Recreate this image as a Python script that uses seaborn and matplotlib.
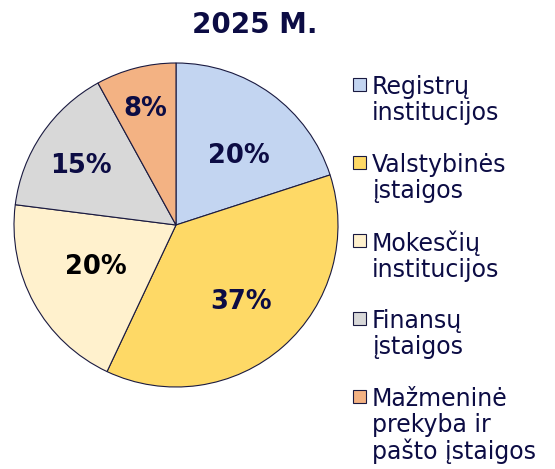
import numpy as np
import matplotlib
matplotlib.use("Agg")
import matplotlib.pyplot as plt
from matplotlib.patches import Rectangle
import seaborn as sns

# Duomenys
kategorijos = ["Registrų\ninstitucijos", "Valstybinės\nįstaigos", "Mokesčių\ninstitucijos",
               "Finansų\nįstaigos", "Mažmeninė\nprekyba ir\npašto įstaigos"]
reiksmes = [20, 37, 20, 15, 8]
spalvos = ["#c3d5f1", "#fed966", "#fff1cd", "#d8d8d8", "#f3b283"]
etiketes_spalvos = ["#0c0c44", "#0c0c44", "#000000", "#0c0c44", "#0c0c44"]
atstumai = [0.59, 0.61, 0.55, 0.70, 0.76]
kampo_poslinkis = [-5, 0, -3, 1, 0]

sns.set_theme(style="white")
plt.rcParams["font.family"] = ["DejaVu Sans"]
W, H = 555, 469

fig = plt.figure(figsize=(W / 100, H / 100), dpi=100)
# pyragas: centras (176, 225), spindulys 162 px
ax = fig.add_axes([14 / W, 1 - 387 / H, 324 / W, 324 / H])

wedges, _ = ax.pie(reiksmes, colors=sns.color_palette(spalvos), startangle=90, counterclock=False,
                   wedgeprops=dict(edgecolor="#1a1a40", linewidth=0.8))
ax.set_xlim(-1, 1)
ax.set_ylim(-1, 1)
ax.set_aspect("equal")
ax.axis("off")

# Procentų etiketės
for w, v, c, d, p in zip(wedges, reiksmes, etiketes_spalvos, atstumai, kampo_poslinkis):
    kampas = np.deg2rad((w.theta1 + w.theta2) / 2 + p)
    ax.text(d * np.cos(kampas), d * np.sin(kampas), f"{v}%", ha="center", va="center_baseline",
            fontsize=18.5, fontweight="bold", color=c)

fig.text(255 / W, 1 - 25 / H, "2025 M.", ha="center", va="center", fontsize=20,
         fontweight="bold", color="#0c0c44")

# Legenda
for i, (k, sp) in enumerate(zip(kategorijos, spalvos)):
    y0 = 78 + 78 * i
    fig.patches.append(Rectangle((353 / W, 1 - (y0 + 13) / H), 13 / W, 13 / H,
                                 transform=fig.transFigure, facecolor=sp,
                                 edgecolor="#1a1a40", linewidth=0.8))
    fig.text(372 / W, 1 - (y0 - 3) / H, k, ha="left", va="top", fontsize=17,
             color="#0c0c44", linespacing=1.1)

fig.savefig("out.png", dpi=100)
plt.close()
